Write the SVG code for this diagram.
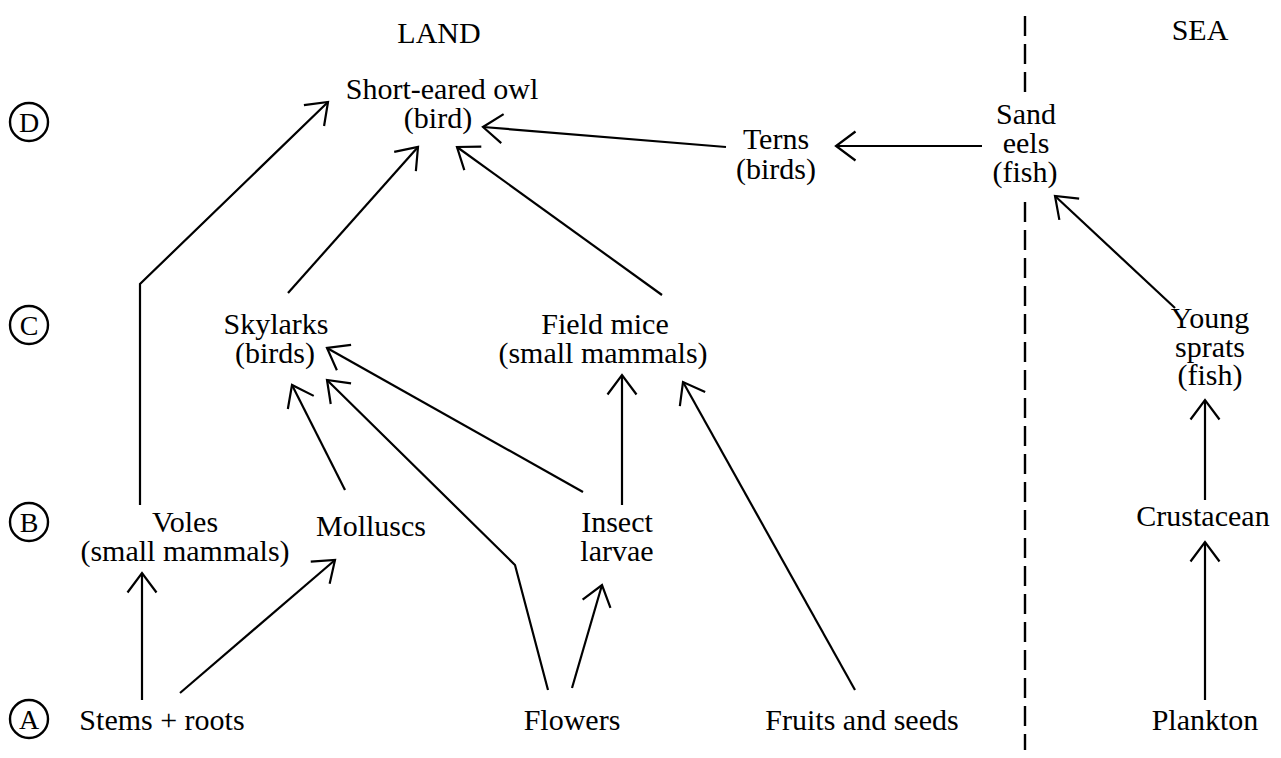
<svg xmlns="http://www.w3.org/2000/svg" width="1281" height="758" viewBox="0 0 1281 758">
<style>
text{font-family:"Liberation Serif","Times New Roman",serif;font-size:30px;fill:#000;text-anchor:middle}
.lv{font-size:28px}
.lvc{fill:none;stroke:#000;stroke-width:2.4}
.c{fill:none;stroke:#000;stroke-width:2.2;marker-end:url(#ah)}
.dash{stroke:#000;stroke-width:2.4;stroke-dasharray:20 8;fill:none}
</style>
<defs>
<marker id="ah" markerUnits="userSpaceOnUse" markerWidth="50" markerHeight="50" viewBox="-25 -25 50 50" refX="0" refY="0" orient="auto">
<path d="M-19.5,-14.5 L0,0 L-19.5,14.5" fill="none" stroke="#000" stroke-width="2.2"/>
</marker>
</defs>
<rect width="1281" height="758" fill="#fff"/>
<g id="headings">
<text x="439" y="43">LAND</text>
<text x="1200" y="40">SEA</text>
</g>
<g id="divider">
<line class="dash" x1="1025" y1="16" x2="1025" y2="96"/>
<line class="dash" x1="1025" y1="202" x2="1025" y2="750"/>
</g>
<g id="levels">
<g id="level-D"><circle class="lvc" cx="29" cy="122" r="19"/><text class="lv" x="29" y="132">D</text></g>
<g id="level-C"><circle class="lvc" cx="29" cy="325" r="19"/><text class="lv" x="29" y="335">C</text></g>
<g id="level-B"><circle class="lvc" cx="29" cy="522" r="19"/><text class="lv" x="29" y="532">B</text></g>
<g id="level-A"><circle class="lvc" cx="29" cy="719" r="19"/><text class="lv" x="29" y="729">A</text></g>
</g>
<g id="connectors">
<path class="c" d="M140,505 V284 L328,102"/>
<path class="c" d="M288,293 L418,147"/>
<path class="c" d="M662,295 L457,147"/>
<path class="c" d="M982,146 L836,146"/>
<path class="c" d="M726,147 L483,127"/>
<path class="c" d="M1175,308 L1055,196"/>
<path class="c" d="M345,490 L292,385"/>
<path class="c" d="M548,690 L515,565 L327,380"/>
<path class="c" d="M583,492 L327,348"/>
<path class="c" d="M622,505 L622,375"/>
<path class="c" d="M855,690 L683,382"/>
<path class="c" d="M142,700 L142,573"/>
<path class="c" d="M180,693 L335,560"/>
<path class="c" d="M572,688 L602,585"/>
<path class="c" d="M1205,500 L1205,400"/>
<path class="c" d="M1205,700 L1205,542"/>
</g>
<g id="owl"><text x="442" y="99">Short-eared owl</text><text x="438" y="128">(bird)</text></g>
<g id="terns"><text x="776" y="149">Terns</text><text x="776" y="179">(birds)</text></g>
<g id="sandeels"><text x="1026" y="124">Sand</text><text x="1026" y="153">eels</text><text x="1025" y="182">(fish)</text></g>
<g id="skylarks"><text x="276" y="334">Skylarks</text><text x="275" y="363">(birds)</text></g>
<g id="fieldmice"><text x="605" y="334">Field mice</text><text x="603" y="363">(small mammals)</text></g>
<g id="sprats"><text x="1210" y="328">Young</text><text x="1210" y="357">sprats</text><text x="1210" y="385">(fish)</text></g>
<g id="voles"><text x="185" y="532">Voles</text><text x="185" y="561">(small mammals)</text></g>
<g id="molluscs"><text x="371" y="536">Molluscs</text></g>
<g id="larvae"><text x="617" y="532">Insect</text><text x="617" y="561">larvae</text></g>
<g id="crustacean"><text x="1203" y="526">Crustacean</text></g>
<g id="stems"><text x="162" y="730">Stems + roots</text></g>
<g id="flowers"><text x="572" y="730">Flowers</text></g>
<g id="fruits"><text x="862" y="730">Fruits and seeds</text></g>
<g id="plankton"><text x="1205" y="730">Plankton</text></g>
</svg>
